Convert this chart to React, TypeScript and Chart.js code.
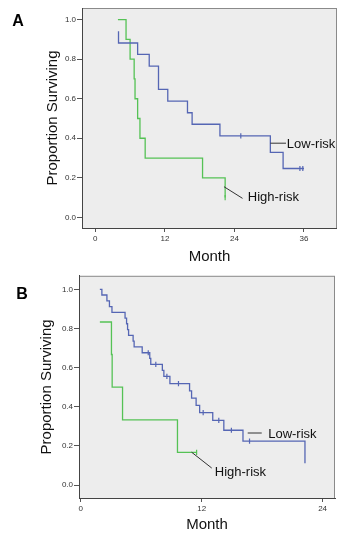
import React, { useEffect, useRef } from "react";
import { Chart, registerables } from "chart.js";

Chart.register(...registerables);

const FONT = "'Liberation Sans', Arial, sans-serif";
const BLUE = "#5566b4";
const GREEN = "#55c255";

// ---------- Panel A ----------
const A_LOW_MONTHS = [4.0, 4.0, 7.3, 9.3, 10.9, 12.5, 15.9, 16.7, 21.5, 30.2, 32.4, 36.0];
const A_LOW_SURV = [0.941, 0.882, 0.824, 0.765, 0.647, 0.588, 0.529, 0.471, 0.412, 0.329, 0.247, 0.247];
const A_LOW_CENS_MONTHS = [25.1, 35.3, 35.8];
const A_LOW_CENS_SURV = [0.412, 0.247, 0.247];
const A_HIGH_MONTHS = [3.9, 5.3, 6.0, 6.7, 6.85, 7.3, 7.7, 8.6, 18.5, 22.4];
const A_HIGH_SURV = [1.0, 0.9, 0.8, 0.7, 0.6, 0.5, 0.4, 0.3, 0.2, 0.1];
const A_HIGH_CENS_MONTHS = [22.4];
const A_HIGH_CENS_SURV = [0.1];
const A_X_TICKS = [0, 12, 24, 36];
const A_LABELS = ["Low-risk", "High-risk"];
const A_LABEL_X = [33.05, 26.3];
const A_LABEL_Y = [0.37, 0.103];
const A_LEADER_X1 = [30.2, 22.2];
const A_LEADER_Y1 = [0.375, 0.155];
const A_LEADER_X2 = [32.9, 25.4];
const A_LEADER_Y2 = [0.375, 0.096];

// ---------- Panel B ----------
const B_LOW_MONTHS = [1.9, 2.1, 2.6, 2.85, 3.1, 4.4, 4.55, 4.65, 4.75, 5.2, 5.3, 6.1, 6.85, 6.95, 8.1, 8.25, 8.85, 10.8, 11.0, 11.45, 11.8, 13.1, 14.2, 16.1, 22.25];
const B_LOW_SURV = [1.0, 0.971, 0.941, 0.912, 0.882, 0.853, 0.824, 0.794, 0.765, 0.735, 0.706, 0.676, 0.647, 0.617, 0.586, 0.555, 0.518, 0.481, 0.444, 0.407, 0.37, 0.33, 0.28, 0.225, 0.112];
const B_LOW_CENS_MONTHS = [6.7, 7.45, 8.55, 9.7, 12.15, 13.7, 14.95, 16.75];
const B_LOW_CENS_SURV = [0.676, 0.617, 0.555, 0.518, 0.37, 0.33, 0.28, 0.225];
const B_HIGH_MONTHS = [1.9, 3.05, 3.12, 4.15, 9.6, 11.5];
const B_HIGH_SURV = [0.833, 0.667, 0.5, 0.333, 0.167, 0.167];
const B_HIGH_CENS_MONTHS = [11.5];
const B_HIGH_CENS_SURV = [0.167];
const B_X_TICKS = [0, 12, 24];
const B_LABELS = ["Low-risk", "High-risk"];
const B_LABEL_X = [18.6, 13.3];
const B_LABEL_Y = [0.261, 0.067];
const B_LEADER_X1 = [16.57, 11.0];
const B_LEADER_Y1 = [0.266, 0.168];
const B_LEADER_X2 = [17.96, 13.0];
const B_LEADER_Y2 = [0.266, 0.087];

const Y_TICKS = [0, 0.2, 0.4, 0.6, 0.8, 1.0];

const zip = (xs: number[], ys: number[]) => xs.map((x, i) => ({ x, y: ys[i] }));

interface PanelCfg {
  letter: string;
  letterX: number;
  letterY: number;
  height: number;
  area: { left: number; top: number; right: number; bottom: number };
  xMin: number;
  xMax: number;
  yMin: number;
  yMax: number;
  xTicks: number[];
  yTitlePad: number;
  xTitlePad: number;
  low: { x: number; y: number }[];
  lowCens: { x: number; y: number }[];
  high: { x: number; y: number }[];
  highCens: { x: number; y: number }[];
  labels: string[];
  labelX: number[];
  labelY: number[];
  lx1: number[];
  ly1: number[];
  lx2: number[];
  ly2: number[];
}

const PANEL_A: PanelCfg = {
  letter: "A",
  letterX: 18,
  letterY: 22,
  height: 268,
  area: { left: 82, top: 8, right: 337, bottom: 228 },
  xMin: -2.3,
  xMax: 41.7,
  yMin: -0.054,
  yMax: 1.059,
  xTicks: A_X_TICKS,
  yTitlePad: 44,
  xTitlePad: 2,
  low: zip(A_LOW_MONTHS, A_LOW_SURV),
  lowCens: zip(A_LOW_CENS_MONTHS, A_LOW_CENS_SURV),
  high: zip(A_HIGH_MONTHS, A_HIGH_SURV),
  highCens: zip(A_HIGH_CENS_MONTHS, A_HIGH_CENS_SURV),
  labels: A_LABELS,
  labelX: A_LABEL_X,
  labelY: A_LABEL_Y,
  lx1: A_LEADER_X1,
  ly1: A_LEADER_Y1,
  lx2: A_LEADER_X2,
  ly2: A_LEADER_Y2,
};

const PANEL_B: PanelCfg = {
  letter: "B",
  letterX: 22,
  letterY: 25,
  height: 264,
  area: { left: 79, top: 3, right: 335, bottom: 228 },
  xMin: -0.17,
  xMax: 25.23,
  yMin: -0.066,
  yMax: 1.069,
  xTicks: B_X_TICKS,
  yTitlePad: 38,
  xTitlePad: 0,
  low: zip(B_LOW_MONTHS, B_LOW_SURV),
  lowCens: zip(B_LOW_CENS_MONTHS, B_LOW_CENS_SURV),
  high: zip(B_HIGH_MONTHS, B_HIGH_SURV),
  highCens: zip(B_HIGH_CENS_MONTHS, B_HIGH_CENS_SURV),
  labels: B_LABELS,
  labelX: B_LABEL_X,
  labelY: B_LABEL_Y,
  lx1: B_LEADER_X1,
  ly1: B_LEADER_Y1,
  lx2: B_LEADER_X2,
  ly2: B_LEADER_Y2,
};

function buildChart(canvas: HTMLCanvasElement, p: PanelCfg) {
  const W = 337;
  const framePlugin = {
    id: "kmFrame",
    beforeDraw(chart: any) {
      const { ctx, chartArea: a } = chart;
      ctx.save();
      ctx.fillStyle = "#ededed";
      ctx.fillRect(a.left, a.top, a.right - a.left, a.bottom - a.top);
      ctx.strokeStyle = "#8a8a8a";
      ctx.lineWidth = 1;
      ctx.strokeRect(a.left + 0.5, a.top + 0.5, a.right - a.left - 1, a.bottom - a.top);
      ctx.restore();
    },
    afterDraw(chart: any) {
      const { ctx } = chart;
      const xs = chart.scales.x;
      const ys = chart.scales.y;
      ctx.save();
      ctx.fillStyle = "#000";
      ctx.font = `bold 16px ${FONT}`;
      ctx.textAlign = "center";
      ctx.textBaseline = "middle";
      ctx.fillText(p.letter, p.letterX, p.letterY);
      ctx.strokeStyle = "#333";
      ctx.lineWidth = 1;
      for (let i = 0; i < p.lx1.length; i++) {
        ctx.beginPath();
        ctx.moveTo(xs.getPixelForValue(p.lx1[i]), ys.getPixelForValue(p.ly1[i]));
        ctx.lineTo(xs.getPixelForValue(p.lx2[i]), ys.getPixelForValue(p.ly2[i]));
        ctx.stroke();
      }
      ctx.font = `13px ${FONT}`;
      ctx.textAlign = "left";
      ctx.fillStyle = "#111";
      for (let i = 0; i < p.labels.length; i++) {
        ctx.fillText(p.labels[i], xs.getPixelForValue(p.labelX[i]), ys.getPixelForValue(p.labelY[i]));
      }
      ctx.restore();
    },
  };

  const tickFont = { family: FONT, size: 8 };
  const censStyle = {
    type: "scatter" as const,
    showLine: false,
    pointStyle: "line" as const,
    rotation: 90,
    pointRadius: 2.6,
    pointBorderWidth: 1.2,
  };

  return new Chart(canvas, {
    type: "scatter",
    data: {
      datasets: [
        {
          label: "Low-risk",
          data: p.low,
          showLine: true,
          stepped: true,
          borderColor: BLUE,
          borderWidth: 1.3,
          pointRadius: 0,
        } as any,
        {
          label: "High-risk",
          data: p.high,
          showLine: true,
          stepped: true,
          borderColor: GREEN,
          borderWidth: 1.3,
          pointRadius: 0,
        } as any,
        { label: "Low-risk censored", data: p.lowCens, borderColor: BLUE, backgroundColor: BLUE, ...censStyle } as any,
        { label: "High-risk censored", data: p.highCens, borderColor: GREEN, backgroundColor: GREEN, ...censStyle } as any,
      ],
    },
    options: {
      responsive: false,
      animation: false,
      events: [],
      layout: {
        autoPadding: false,
        padding: { left: 0, top: p.area.top, right: W - p.area.right, bottom: 0 },
      },
      plugins: {
        legend: { display: false },
        tooltip: { enabled: false },
      },
      scales: {
        x: {
          type: "linear",
          min: p.xMin,
          max: p.xMax,
          afterBuildTicks: (s: any) => {
            s.ticks = p.xTicks.map((v) => ({ value: v }));
          },
          afterFit: (s: any) => {
            s.height = p.height - p.area.bottom;
          },
          grid: { drawOnChartArea: false, drawTicks: true, tickLength: 4, color: "#555" },
          border: { display: true, color: "#444", width: 1 },
          ticks: {
            font: tickFont,
            color: "#333",
            padding: 2,
            maxRotation: 0,
            autoSkip: false,
            callback: (v: any) => String(v),
          },
          title: {
            display: true,
            text: "Month",
            font: { family: FONT, size: 15 },
            color: "#111",
            padding: { top: 0, bottom: p.xTitlePad },
          },
        },
        y: {
          type: "linear",
          min: p.yMin,
          max: p.yMax,
          afterBuildTicks: (s: any) => {
            s.ticks = Y_TICKS.map((v) => ({ value: v }));
          },
          afterFit: (s: any) => {
            s.width = p.area.left;
          },
          grid: { drawOnChartArea: false, drawTicks: true, tickLength: 5, color: "#555" },
          border: { display: true, color: "#444", width: 1 },
          ticks: {
            font: tickFont,
            color: "#333",
            padding: 1,
            autoSkip: false,
            callback: (v: any) => Number(v).toFixed(1),
          },
          title: {
            display: true,
            text: "Proportion Surviving",
            font: { family: FONT, size: 15 },
            color: "#111",
            padding: { top: p.yTitlePad, bottom: 0 },
          },
        },
      },
    } as any,
    plugins: [framePlugin],
  });
}

function Panel({ cfg, top }: { cfg: PanelCfg; top: number }) {
  const ref = useRef<HTMLCanvasElement>(null);
  useEffect(() => {
    const chart = buildChart(ref.current as HTMLCanvasElement, cfg);
    return () => chart.destroy();
  }, [cfg]);
  return (
    <canvas
      ref={ref}
      width={337}
      height={cfg.height}
      style={{ position: "absolute", left: 0, top, width: 337, height: cfg.height, display: "block" }}
    />
  );
}

export default function App() {
  return (
    <div style={{ position: "absolute", left: 0, top: 0, width: 337, height: 534, background: "#fff", overflow: "hidden" }}>
      <Panel cfg={PANEL_A} top={0} />
      <Panel cfg={PANEL_B} top={270} />
    </div>
  );
}
